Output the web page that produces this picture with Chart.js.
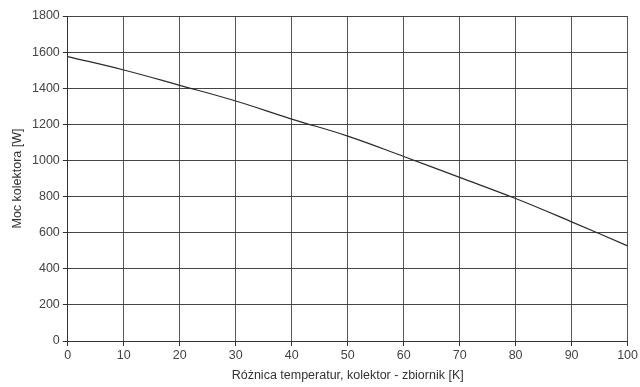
<!DOCTYPE html>
<html>
<head>
<meta charset="utf-8">
<script src="https://cdn.jsdelivr.net/npm/chart.js@4"></script>
<style>
  html, body { margin: 0; padding: 0; background: #fff; }
  #box { width: 640px; height: 387px; }
</style>
</head>
<body>
<div id="box"><canvas id="powerChart"></canvas></div>
<script>
// temperature difference collector - tank [K]
const deltaT = [0, 10, 20, 30, 40, 50, 60, 70, 80, 90, 100];
// collector power [W]
const moc = [1575, 1501, 1416, 1329, 1229, 1135, 1022, 906, 789, 660, 527];

const xTicks = [0, 10, 20, 30, 40, 50, 60, 70, 80, 90, 100];
const yTicks = [0, 200, 400, 600, 800, 1000, 1200, 1400, 1600, 1800];

const points = deltaT.map((t, i) => ({ x: t, y: moc[i] }));

const ctx = document.getElementById("powerChart").getContext("2d");

new Chart(ctx, {
  type: "line",
  data: {
    datasets: [
      {
        label: "Moc kolektora",
        data: points,
        borderColor: "#2b2b2b",
        borderWidth: 1.2,
        pointRadius: 0,
        fill: false,
        tension: 0.4,
      },
    ],
  },
  options: {
    responsive: true,
    maintainAspectRatio: false,
    animation: false,
    layout: { padding: { top: 16, right: 10, left: 10, bottom: 4 } },
    plugins: {
      legend: { display: false },
      tooltip: { enabled: false },
    },
    scales: {
      x: {
        type: "linear",
        min: 0,
        max: 100,
        afterBuildTicks: (axis) => { axis.ticks = xTicks.map((v) => ({ value: v })); },
        grid: { color: "#555", lineWidth: 1, tickLength: 5, tickColor: "#333" },
        border: { color: "#333", width: 1 },
        ticks: {
          color: "#444",
          font: { family: "Liberation Sans", size: 12.5 },
          padding: 2,
          maxRotation: 0,
          callback: (v) => String(v),
        },
        title: {
          display: true,
          text: "Różnica temperatur, kolektor - zbiornik [K]",
          color: "#333",
          font: { family: "Liberation Sans", size: 12.5 },
          padding: { top: 3, bottom: 0 },
        },
      },
      y: {
        min: 0,
        max: 1800,
        afterBuildTicks: (axis) => { axis.ticks = yTicks.map((v) => ({ value: v })); },
        grid: { color: "#444", lineWidth: 1, tickLength: 5, tickColor: "#333" },
        border: { color: "#333", width: 1 },
        ticks: {
          color: "#444",
          font: { family: "Liberation Sans", size: 12.5 },
          padding: 3,
          callback: (v) => String(v),
        },
        title: {
          display: true,
          text: "Moc kolektora [W]",
          color: "#333",
          font: { family: "Liberation Sans", size: 12.5 },
          padding: { top: 0, bottom: 4 },
        },
      },
    },
  },
});
</script>
</body>
</html>
